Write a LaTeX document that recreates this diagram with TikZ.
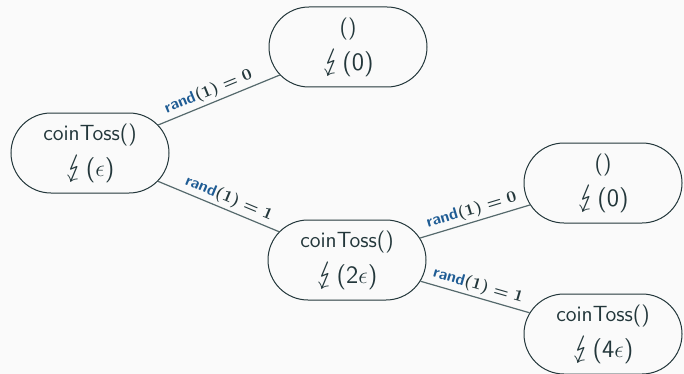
\documentclass[tikz,border=0pt]{standalone}
\usepackage{stmaryrd}
\usetikzlibrary{shapes.misc}
\definecolor{bgc}{HTML}{FAFAFA}
\definecolor{txt}{HTML}{23373B}
\definecolor{edgec}{HTML}{55696C}
\definecolor{lblue}{HTML}{1F5C94}
\begin{document}
\begin{tikzpicture}[x=0.5pt,y=-0.5pt,
  state/.style={rounded rectangle, draw=txt, line width=0.5pt, text=txt,
    minimum width=83pt, minimum height=40pt, align=center, inner sep=2pt,
    font=\sffamily\fontsize{11}{16}\selectfont},
  conn/.style={draw=edgec, line width=0.6pt},
  lbl/.style={sloped, above, inner sep=1.5pt, text=txt, font=\sffamily\bfseries\fontsize{8}{9}\selectfont}]
\fill[bgc] (0,0) rectangle (684,374);
\useasboundingbox (0,0) rectangle (684,374);
\newcommand{\lbx}[1]{{\fontsize{12.5}{16}\selectfont\scalebox{1.3}{\boldmath$\lightning$}\kern0.5pt(#1)}}
\newcommand{\rnd}[1]{\textcolor{lblue}{rand}{\boldmath$(1) = #1$}}
\node[state] (A) at (90,153) {coinToss()\\[2pt]\lbx{$\epsilon$}};
\node[state] (B) at (348,47) {()\\[2pt]\lbx{0}};
\node[state] (C) at (347,260) {coinToss()\\[2pt]\lbx{2$\epsilon$}};
\node[state] (D) at (603,183) {()\\[2pt]\lbx{0}};
\node[state] (E) at (603,334) {coinToss()\\[2pt]\lbx{4$\epsilon$}};
\draw[conn] (A) -- node[lbl, pos=0.45] {\rnd{0}} (B);
\draw[conn] (A) -- node[lbl, pos=0.55, above] {\rnd{1}} (C);
\draw[conn] (C) -- node[lbl, pos=0.5] {\rnd{0}} (D);
\draw[conn] (C) -- node[lbl, pos=0.5] {\rnd{1}} (E);
\end{tikzpicture}
\end{document}
